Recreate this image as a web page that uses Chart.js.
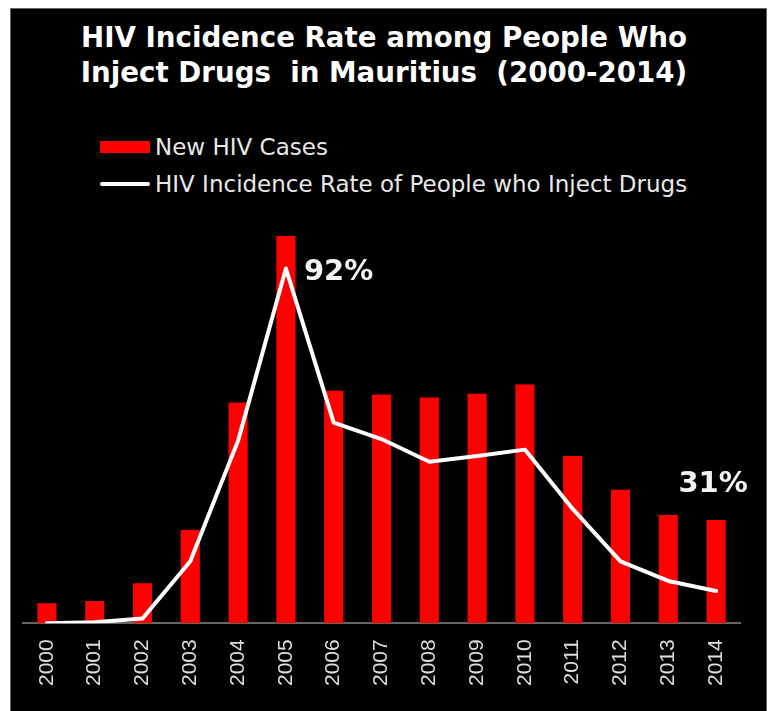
<!DOCTYPE html>
<html>
<head>
<meta charset="utf-8">
<script src="https://cdn.jsdelivr.net/npm/chart.js@4"></script>
<style>
    body { margin: 0; background: #fff; width: 768px; height: 711px; overflow: hidden; position: relative; font-family: "DejaVu Sans", sans-serif; }
    #box { position: absolute; left: 10px; top: 8px; width: 757px; height: 703px; background: #000; border: 1px solid #666; border-bottom: none; box-sizing: border-box; }
    #title { position: absolute; left: 0; top: 20px; width: 768px; text-align: center; color: #fff; font-weight: bold; font-size: 27.7px; line-height: 35px; }
    #legend { position: absolute; left: 100px; top: 128px; color: #e8e8e8; font-size: 23px; }
    .item { height: 37px; display: flex; align-items: center; }
    .swatch { width: 50px; margin-right: 5px; flex: none; }
    #wrap { position: absolute; left: 0; top: 200px; width: 768px; height: 511px; }
</style>
</head>
<body>
<div id="box"></div>
<div id="title">HIV Incidence Rate among People Who<br>Inject Drugs&nbsp; in Mauritius&nbsp; (2000-2014)</div>
<div id="legend"></div>
<div id="wrap"><canvas id="chart"></canvas></div>
<script>
// ========== DATA ==========
const years = ['2000', '2001', '2002', '2003', '2004', '2005', '2006', '2007', '2008', '2009', '2010', '2011', '2012', '2013', '2014'];
const newCases = [48, 53, 96, 223, 528, 926, 556, 547, 540, 549, 571, 400, 319, 259, 247];
const incidenceRate = [25.0, 25.2, 25.9, 36.7, 59.5, 92.0, 62.9, 59.8, 55.5, 56.6, 57.8, 46.6, 36.7, 33.0, 31.1];
const seriesNames = ['New HIV Cases', 'HIV Incidence Rate of People who Inject Drugs'];
const labelledYears = ['2005', '2014'];

// ========== LEGEND ==========
function buildLegend(chart) {
    const box = document.getElementById('legend');
    box.innerHTML = '';
    chart.data.datasets.forEach(ds => {
        const row = document.createElement('div');
        row.className = 'item';
        const sw = document.createElement('span');
        sw.className = 'swatch';
        sw.style.height = ds.type === 'line' ? '4px' : '12px';
        sw.style.background = ds.type === 'line' ? ds.borderColor : ds.backgroundColor;
        if (ds.type === 'line') sw.style.borderRadius = '2px';
        row.appendChild(sw);
        row.appendChild(document.createTextNode(ds.label));
        box.appendChild(row);
    });
}

// ========== PERCENT LABELS ==========
const pctLabels = {
    id: 'pctLabels',
    afterDatasetsDraw(chart) {
        const ctx = chart.ctx;
        const bars = chart.getDatasetMeta(0).data;
        const pts = chart.getDatasetMeta(1).data;
        ctx.save();
        ctx.fillStyle = '#f4f4f4';
        ctx.font = 'bold 29px "DejaVu Sans"';
        ctx.textBaseline = 'middle';
        labelledYears.forEach((yr, n) => {
            const i = years.indexOf(yr);
            const txt = Math.round(incidenceRate[i]) + '%';
            if (n === 0) {
                ctx.textAlign = 'left';
                ctx.fillText(txt, pts[i].x + 18, pts[i].y + 4);
            } else {
                ctx.textAlign = 'center';
                ctx.fillText(txt, bars[i].x - 3, bars[i].y - 35);
            }
        });
        ctx.restore();
    }
};

// ========== CHART ==========
const chart = new Chart(document.getElementById('chart'), {
    data: {
        labels: years,
        datasets: [
            { type: 'bar', label: seriesNames[0], data: newCases, backgroundColor: '#ff0000', yAxisID: 'y', order: 2, barPercentage: 0.4, categoryPercentage: 1 },
            { type: 'line', label: seriesNames[1], data: incidenceRate, borderColor: '#ffffff', borderWidth: 4, pointRadius: 0, tension: 0, yAxisID: 'y2', order: 1, borderCapStyle: 'round', borderJoinStyle: 'round' }
        ]
    },
    options: {
        responsive: true,
        maintainAspectRatio: false,
        animation: false,
        layout: { padding: { left: 23, right: 28, top: 5, bottom: 9 } },
        plugins: { legend: { display: false }, title: { display: false }, tooltip: { enabled: false } },
        scales: {
            x: {
                grid: { display: false, drawTicks: false },
                border: { color: '#666', width: 2 },
                ticks: { color: '#dddddd', font: { family: 'Liberation Sans', size: 21 }, minRotation: 90, maxRotation: 90, padding: 16 }
            },
            y: { display: false, min: 0, max: 1000 },
            y2: { display: false, min: 25, max: 104 }
        }
    },
    plugins: [pctLabels]
});
buildLegend(chart);
</script>
</body>
</html>
